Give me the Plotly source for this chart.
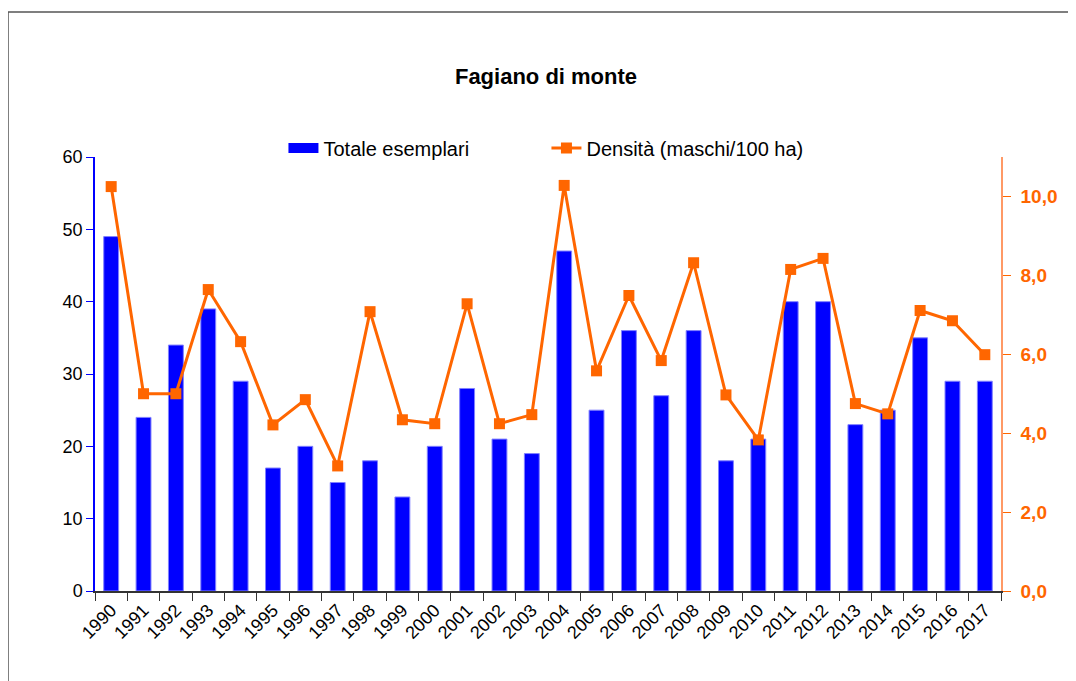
import plotly.graph_objects as go

# data
anni = [str(a) for a in range(1990, 2018)]
totale_esemplari = [49, 24, 34, 39, 29, 17, 20, 15, 18, 13, 20, 28, 21, 19,
                    47, 25, 36, 27, 36, 18, 21, 40, 40, 23, 25, 35, 29, 29]
densita = [10.25, 5.0, 5.0, 7.64, 6.32, 4.21, 4.85, 3.17, 7.08, 4.34, 4.24, 7.28, 4.24, 4.47,
           10.28, 5.58, 7.49, 5.84, 8.32, 4.97, 3.83, 8.15, 8.43, 4.75, 4.49, 7.11, 6.85, 5.99]

BLU = "#0000FF"
ARANCIO = "#FF6600"
FONT = "Liberation Sans, Arial, sans-serif"

fig = go.Figure()

fig.add_trace(go.Bar(
    x=anni, y=totale_esemplari, name="Totale esemplari",
    marker=dict(color=BLU, line=dict(color="#8080FF", width=1)),
    width=0.46, showlegend=False,
))
# legend entry drawn as a wide blue block, like the original
fig.add_trace(go.Scatter(
    x=[None], y=[None], mode="lines", name="Totale esemplari",
    line=dict(color=BLU, width=13),
))
fig.add_trace(go.Scatter(
    x=anni, y=densita, name="Densità (maschi/100 ha)", yaxis="y2",
    mode="lines+markers",
    line=dict(color=ARANCIO, width=3),
    marker=dict(symbol="square", size=11, color=ARANCIO),
))

# page body adds 8px, so margins are 8px smaller than the on-screen positions
fig.update_layout(
    width=1076, height=681,
    margin=dict(l=87, r=83, t=149, b=98),
    paper_bgcolor="white", plot_bgcolor="white",
    separators=",.",
    font=dict(family=FONT, size=18, color="black"),
    title=dict(text="<b>Fagiano di monte</b>", x=0.5, xanchor="center",
               y=1 - 68 / 681, yanchor="middle", font=dict(size=22)),
    legend=dict(orientation="h", x=0.208, xanchor="left", y=1.021, yanchor="middle",
                font=dict(size=20), entrywidth=218, bgcolor="rgba(0,0,0,0)"),
    xaxis=dict(
        type="category", showgrid=False, showline=True, linecolor="#333333", linewidth=1.5,
        ticks="outside", ticklen=8, tickcolor="#333333", tickson="boundaries",
        tickangle=-45, tickfont=dict(size=18), range=[-0.5, 27.5],
    ),
    yaxis=dict(
        range=[0, 60], dtick=10, showgrid=False, zeroline=False,
        showline=True, linecolor=BLU, linewidth=1.5,
        ticks="outside", ticklen=7, tickcolor=BLU, tickfont=dict(size=18),
    ),
    yaxis2=dict(
        overlaying="y", side="right", range=[0, 11], dtick=2, tickformat=".1f",
        showgrid=False, zeroline=False, showline=True, linecolor="#FF9966", linewidth=1.5,
        ticks="outside", ticklen=8, tickcolor=ARANCIO, ticklabelstandoff=6,
        tickfont=dict(size=19, color=ARANCIO),
        tickprefix="<b>", ticksuffix="</b>",
    ),
    shapes=[dict(type="rect", xref="paper", yref="paper",
                 x0=(0 - 87) / 906, x1=1.2, y0=-0.4, y1=(583 - 4) / 434,
                 line=dict(color="#555555", width=1.5), layer="below")],
)

fig.write_html("out.html")
